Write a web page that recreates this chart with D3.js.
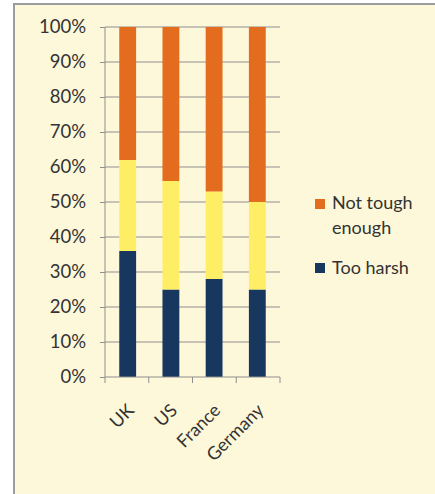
<!DOCTYPE html>
<html>
<head>
<script src="https://d3js.org/d3.v7.min.js"></script>
<style>
body { margin: 0; background: #fff; }
text { font-family: Lato, "Open Sans", sans-serif; fill: #333; }
</style>
</head>
<body>
<svg id="chart" width="435" height="494"></svg>
<script>
// data
var countries = ["UK", "US", "France", "Germany"];
var tooHarsh = [36, 25, 28, 25];
var middle = [26, 31, 25, 25];
var notTough = [38, 44, 47, 50];
var yTicks = [0, 10, 20, 30, 40, 50, 60, 70, 80, 90, 100];

var svg = d3.select("#chart");

// chart frame
svg.append("rect")
  .attr("x", 14).attr("y", 4)
  .attr("width", 440).attr("height", 500)
  .attr("fill", "#FEF8DA")
  .attr("stroke", "#9c9c9c").attr("stroke-width", 2);

var pLeft = 105, pRight = 280, pTop = 27, pBottom = 377;

var x = d3.scaleBand().domain(countries).range([pLeft, pRight]).paddingInner(0.61).paddingOuter(0.33);
var y = d3.scaleLinear().domain([0, 100]).range([pBottom, pTop]);

// gridlines
svg.append("g").selectAll("line")
  .data(yTicks.slice(1))
  .enter().append("line")
  .attr("x1", pLeft).attr("x2", pRight)
  .attr("y1", function(d) { return y(d); })
  .attr("y2", function(d) { return y(d); })
  .attr("stroke", "#8f8f8f").attr("stroke-width", 1);

// stacked bars
var rows = countries.map(function(c, i) {
  return { country: c, harsh: tooHarsh[i], mid: middle[i], tough: notTough[i] };
});
var stack = d3.stack().keys(["harsh", "mid", "tough"]);
var colors = { harsh: "#17375E", mid: "#FDEE66", tough: "#E46C1E" };

svg.append("g").selectAll("g")
  .data(stack(rows))
  .enter().append("g")
  .attr("fill", function(s) { return colors[s.key]; })
  .selectAll("rect")
  .data(function(s) { return s; })
  .enter().append("rect")
  .attr("x", function(d) { return x(d.data.country); })
  .attr("width", x.bandwidth())
  .attr("y", function(d) { return y(d[1]); })
  .attr("height", function(d) { return y(d[0]) - y(d[1]); });

// y axis
var yAxis = svg.append("g")
  .attr("transform", "translate(" + pLeft + ",0)")
  .call(d3.axisLeft(y).tickValues(yTicks).tickSize(5).tickPadding(14)
    .tickFormat(function(d) { return d + "%"; }));
yAxis.select(".domain").attr("stroke", "#8f8f8f").attr("d", "M0," + pTop + "V" + pBottom);
yAxis.selectAll(".tick line").attr("stroke", "#8f8f8f");
yAxis.selectAll("text").style("font-size", "18.5px").attr("fill", "#333");

// x axis
var xAxis = svg.append("g")
  .attr("transform", "translate(0," + pBottom + ")");
xAxis.append("line").attr("x1", pLeft).attr("x2", pRight).attr("stroke", "#8f8f8f");
var step = (pRight - pLeft) / countries.length;
xAxis.selectAll(".tk")
  .data(d3.range(countries.length + 1))
  .enter().append("line")
  .attr("x1", function(d) { return pLeft + d * step; })
  .attr("x2", function(d) { return pLeft + d * step; })
  .attr("y1", 0).attr("y2", 6)
  .attr("stroke", "#8f8f8f");
xAxis.selectAll(".lbl")
  .data(countries)
  .enter().append("text")
  .attr("transform", function(d) {
    return "translate(" + (x(d) + x.bandwidth() / 2 + 3) + ",30) rotate(-45)";
  })
  .attr("text-anchor", "end")
  .attr("dy", "0.35em")
  .style("font-size", "18px")
  .text(function(d) { return d; });

// legend
var legend = svg.append("g");
legend.append("rect").attr("x", 315).attr("y", 199).attr("width", 10).attr("height", 10).attr("fill", colors.tough);
legend.append("text").attr("x", 332).attr("y", 209).style("font-size", "18px").text("Not tough");
legend.append("text").attr("x", 332).attr("y", 234).style("font-size", "18px").text("enough");
legend.append("rect").attr("x", 315).attr("y", 263).attr("width", 10).attr("height", 10).attr("fill", colors.harsh);
legend.append("text").attr("x", 332).attr("y", 274).style("font-size", "18px").text("Too harsh");
</script>
</body>
</html>
